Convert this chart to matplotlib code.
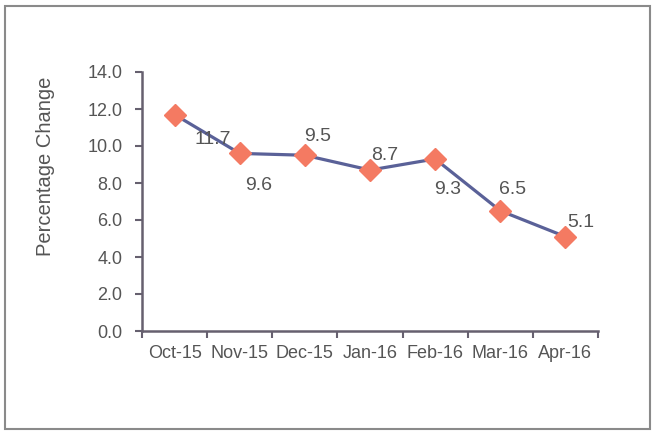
import matplotlib
matplotlib.use("Agg")
import matplotlib.pyplot as plt
from matplotlib.patches import Rectangle

months = ["Oct-15", "Nov-15", "Dec-15", "Jan-16", "Feb-16", "Mar-16", "Apr-16"]
pct_change = [11.7, 9.6, 9.5, 8.7, 9.3, 6.5, 5.1]
# label offsets in pixels (dx right, dy down) as placed in the original
label_dx = [38, 19, 13, 15, 12, 12, 15]
label_dy = [25, 32, -19, -15, 31, -21, -14]

plt.rcParams['font.family'] = ['Liberation Sans', 'DejaVu Sans']
txt = '#555555'
spine = '#66606f'

fig = plt.figure(figsize=(6.52, 4.32), dpi=100)
ax = fig.add_axes([142/652, 1-331/432, (598-142)/652, (331-72)/432])

x = range(len(months))
ax.plot(x, pct_change, color='#5a6198', linewidth=2.3, marker='D', markersize=11,
        markerfacecolor='#f47a62', markeredgecolor='#f47a62', zorder=3)

for i, v in enumerate(pct_change):
    ax.annotate(f"{v:.1f}", (i, v), xytext=(label_dx[i]*0.72, -label_dy[i]*0.72),
                textcoords='offset points', ha='center', va='center',
                fontsize=14, color=txt, zorder=4)

ax.set_xlim(-0.5, len(months) - 0.5)
ax.set_ylim(0, 14)
ax.set_yticks([0, 2, 4, 6, 8, 10, 12, 14])
ax.set_yticklabels([f"{t:.1f}" for t in [0, 2, 4, 6, 8, 10, 12, 14]])
ax.set_xticks(list(x))
ax.set_xticklabels(months)
ax.set_xticks([i - 0.5 for i in range(len(months) + 1)], minor=True)
ax.tick_params(axis='x', which='major', length=0, pad=10, labelsize=13, labelcolor=txt)
ax.tick_params(axis='x', which='minor', length=5, width=1.5, color=spine, direction='out')
ax.tick_params(axis='y', length=5, width=1.5, color=spine, pad=9, labelsize=13, labelcolor=txt)

for s in ['top', 'right']:
    ax.spines[s].set_visible(False)
for s in ['left', 'bottom']:
    ax.spines[s].set_color(spine)
    ax.spines[s].set_linewidth(1.8)

ax.set_ylabel("Percentage Change", fontsize=14.5, color=txt)
ax.yaxis.set_label_coords((55-142)/456, (331-166)/259)

fig.patches.append(Rectangle((5/652, 1-429/432), 645/652, 423/432, transform=fig.transFigure,
                             fill=False, edgecolor='#8a8a8a', linewidth=1.5))

fig.savefig("out.png", dpi=100)
